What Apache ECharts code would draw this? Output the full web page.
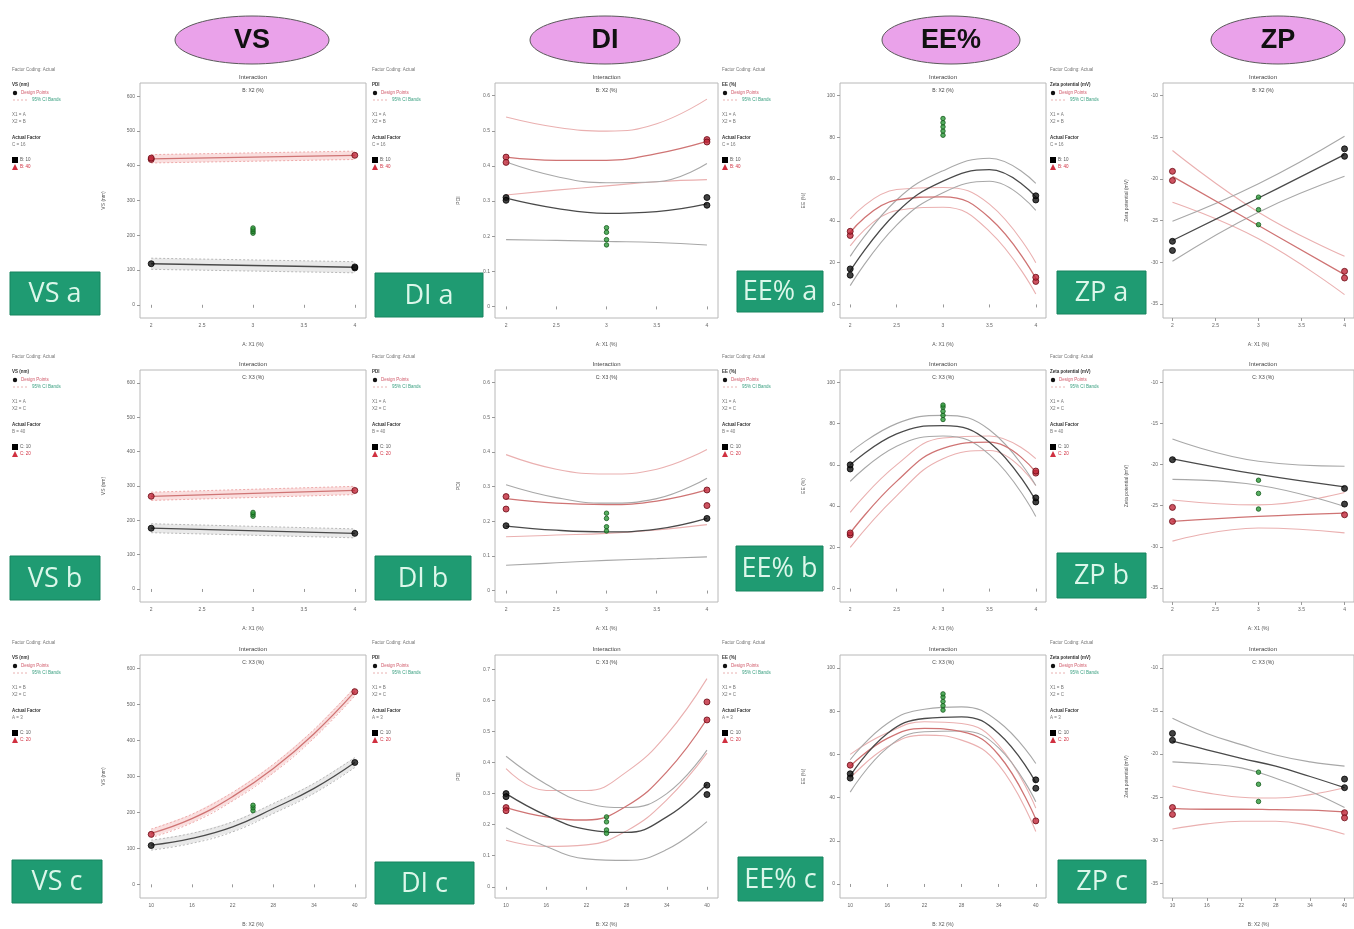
<!DOCTYPE html>
<html>
<head>
<meta charset="utf-8">
<title>Interaction plots</title>
<script src="https://cdn.jsdelivr.net/npm/echarts@6/dist/echarts.min.js"></script>
<style>
  html, body { margin: 0; padding: 0; background: #fff; }
  #chart { width: 1354px; height: 929px; }
</style>
</head>
<body>
<div id="chart"></div>
<script>
// x positions where the curves were read
const xEnds = [2, 4];
const xThree = [2, 3, 4];
const xFive = [2, 2.5, 3, 3.5, 4];
const xSix = [10, 16, 22, 28, 34, 40];

// tick labels
const ticksA = [2, 2.5, 3, 3.5, 4];
const ticksB = [10, 16, 22, 28, 34, 40];
const ticksVS = [0, 100, 200, 300, 400, 500, 600];
const ticksDI = [0, 0.1, 0.2, 0.3, 0.4, 0.5, 0.6];
const ticksDIc = [0, 0.1, 0.2, 0.3, 0.4, 0.5, 0.6, 0.7];
const ticksEE = [0, 20, 40, 60, 80, 100];
const ticksZP = [-35, -30, -25, -20, -15, -10];

// ---- VS ----
const vsA_red = [420, 430], vsA_redHi = [432, 442], vsA_redLo = [408, 418];
const vsA_blk = [118, 108], vsA_blkHi = [134, 124], vsA_blkLo = [102, 92];
const vsA_ptRed = [[2, 418], [2, 422], [4, 430]];
const vsA_ptBlk = [[2, 118], [4, 106], [4, 109]];
const vsA_ptGrn = [[3, 206], [3, 211], [3, 216], [3, 221]];

const vsB_red = [270, 287], vsB_redHi = [282, 299], vsB_redLo = [258, 275];
const vsB_blk = [177, 162], vsB_blkHi = [190, 175], vsB_blkLo = [164, 149];
const vsB_ptRed = [[2, 270], [4, 287]];
const vsB_ptBlk = [[2, 177], [4, 162]];
const vsB_ptGrn = [[3, 212], [3, 218], [3, 223]];

const vsC_red = [142, 183, 244, 322, 419, 536], vsC_redHi = [154, 195, 256, 334, 431, 548], vsC_redLo = [130, 171, 232, 310, 407, 524];
const vsC_blk = [109, 128, 160, 211, 267, 339], vsC_blkHi = [123, 142, 174, 225, 281, 353], vsC_blkLo = [95, 114, 146, 197, 253, 325];
const vsC_ptRed = [[10, 139], [40, 536]];
const vsC_ptBlk = [[10, 108], [40, 339]];
const vsC_ptGrn = [[25, 205], [25, 213], [25, 220]];

// ---- DI (PDI) ----
const diA_red = [0.425, 0.416, 0.416, 0.435, 0.47], diA_redHi = [0.539, 0.51, 0.499, 0.52, 0.59], diA_redLo = [0.317, 0.331, 0.343, 0.355, 0.361];
const diA_blk = [0.308, 0.279, 0.265, 0.27, 0.292], diA_blkHi = [0.411, 0.37, 0.352, 0.355, 0.407], diA_blkLo = [0.19, 0.188, 0.185, 0.182, 0.175];
const diA_ptRed = [[2, 0.425], [2, 0.41], [4, 0.475], [4, 0.468]];
const diA_ptBlk = [[2, 0.31], [2, 0.302], [4, 0.31], [4, 0.288]];
const diA_ptGrn = [[3, 0.224], [3, 0.211], [3, 0.19], [3, 0.175]];

const diB_red = [0.265, 0.252, 0.248, 0.258, 0.29], diB_redHi = [0.392, 0.35, 0.336, 0.35, 0.407], diB_redLo = [0.155, 0.16, 0.165, 0.175, 0.19];
const diB_blk = [0.186, 0.174, 0.169, 0.177, 0.208], diB_blkHi = [0.305, 0.268, 0.252, 0.265, 0.324], diB_blkLo = [0.073, 0.08, 0.087, 0.092, 0.097];
const diB_ptRed = [[2, 0.271], [2, 0.235], [4, 0.29], [4, 0.245]];
const diB_ptBlk = [[2, 0.187], [4, 0.208]];
const diB_ptGrn = [[3, 0.223], [3, 0.208], [3, 0.184], [3, 0.172]];

const diC_red = [0.255, 0.225, 0.215, 0.26, 0.37, 0.54], diC_redHi = [0.38, 0.31, 0.31, 0.37, 0.49, 0.67], diC_redLo = [0.15, 0.13, 0.135, 0.18, 0.28, 0.43];
const diC_blk = [0.30, 0.23, 0.185, 0.175, 0.225, 0.33], diC_blkHi = [0.42, 0.33, 0.27, 0.255, 0.3, 0.44], diC_blkLo = [0.19, 0.13, 0.09, 0.085, 0.12, 0.21];
const diC_ptRed = [[10, 0.255], [10, 0.245], [40, 0.595], [40, 0.537]];
const diC_ptBlk = [[10, 0.30], [10, 0.29], [40, 0.327], [40, 0.297]];
const diC_ptGrn = [[25, 0.225], [25, 0.209], [25, 0.183], [25, 0.172]];

// ---- EE% ----
const eeA_red = [34.5, 50, 51.5, 41.5, 12.5], eeA_redHi = [41, 55, 56, 48, 20], eeA_redLo = [28, 45, 46.5, 35, 5];
const eeA_blk = [16, 44, 59, 64.5, 51.5], eeA_blkHi = [23, 50, 64, 70, 58], eeA_blkLo = [9, 38, 53.5, 59, 45];
const eeA_ptRed = [[2, 33], [2, 35], [4, 11], [4, 13]];
const eeA_ptBlk = [[2, 14], [2, 17], [4, 50], [4, 52]];
const eeA_ptGrn = [[3, 81], [3, 83], [3, 85], [3, 87], [3, 89]];

const eeB_red = [27, 52, 68, 71, 56.5], eeB_redHi = [37, 60, 73, 74, 63], eeB_redLo = [20, 45, 63, 67, 50];
const eeB_blk = [60, 75, 79, 71, 42.5], eeB_blkHi = [66, 80, 84, 77, 50], eeB_blkLo = [52, 69, 74, 65, 35];
const eeB_ptRed = [[2, 26], [2, 27], [4, 56], [4, 57]];
const eeB_ptBlk = [[2, 58], [2, 60], [4, 42], [4, 44]];
const eeB_ptGrn = [[3, 82], [3, 84], [3, 86], [3, 88], [3, 89]];

const eeC_red = [54.5, 67.4, 72, 70.5, 59.7, 29.7], eeC_redHi = [60, 70, 75.1, 74.3, 64.3, 35.1], eeC_redLo = [49, 63.5, 68.9, 66.6, 55.1, 24.3];
const eeC_blk = [50, 69.7, 76.6, 77.4, 69.7, 47], eeC_blkHi = [57.5, 74.3, 80.9, 82, 75.1, 55.8], eeC_blkLo = [42.5, 63, 70.5, 70.8, 63, 38.1];
const eeC_ptRed = [[10, 55], [40, 29.2]];
const eeC_ptBlk = [[10, 51], [10, 49], [40, 48.2], [40, 44.3]];
const eeC_ptGrn = [[25, 80.5], [25, 82.5], [25, 84.5], [25, 86.5], [25, 88]];

// ---- ZP ----
const zpA_red = [-19.7, -25.6, -31.5], zpA_redHi = [-16.6, -24, -29.3], zpA_redLo = [-22.8, -27.2, -33.9];
const zpA_blk = [-27.4, -22.3, -17.1], zpA_blkHi = [-25.1, -20.6, -14.9], zpA_blkLo = [-29.9, -24, -19.7];
const zpA_ptRed = [[2, -19.1], [2, -20.2], [4, -31.1], [4, -31.9]];
const zpA_ptBlk = [[2, -27.5], [2, -28.6], [4, -16.4], [4, -17.3]];
const zpA_ptGrn = [[3, -22.2], [3, -23.7], [3, -25.5]];

const zpB_red = [-26.9, -26.3, -25.9], zpB_redHi = [-24.3, -24.9, -23.4], zpB_redLo = [-29.3, -27.7, -28.3];
const zpB_blk = [-19.3, -21.2, -22.7], zpB_blkHi = [-16.9, -19.6, -20.2], zpB_blkLo = [-21.8, -22.5, -25.1];
const zpB_ptRed = [[2, -25.2], [2, -26.9], [4, -26.1]];
const zpB_ptBlk = [[2, -19.4], [4, -22.9], [4, -24.8]];
const zpB_ptGrn = [[3, -21.9], [3, -23.5], [3, -25.4]];

const zpC_red = [-26.3, -26.4, -26.4, -26.45, -26.5, -26.7], zpC_redHi = [-23.7, -24.5, -25, -25.1, -24.7, -23.9], zpC_redLo = [-28.7, -28.1, -27.8, -27.8, -28.3, -29.3];
const zpC_blk = [-18.5, -19.5, -20.5, -21.4, -22.6, -23.9], zpC_blkHi = [-15.85, -17.6, -18.9, -20.1, -20.9, -21.4], zpC_blkLo = [-20.9, -21.15, -21.6, -22.8, -24.3, -26.2];
const zpC_ptRed = [[10, -26.2], [10, -27], [40, -26.8], [40, -27.4]];
const zpC_ptBlk = [[10, -17.6], [10, -18.4], [40, -22.9], [40, -23.9]];
const zpC_ptGrn = [[25, -22.1], [25, -23.5], [25, -25.5]];

// headers and labels
const headers = ['VS', 'DI', 'EE%', 'ZP'];
const respNames = ['VS (nm)', 'PDI', 'EE (%)', 'Zeta potential (mV)'];

// row settings
const rowInfo = [
    {xTicks: ticksA, xMin: 1.89, xMax: 4.11, xName: 'A: X1 (%)', sub: 'B: X2 (%)', x1: 'X1 = A', x2: 'X2 = B', actual: 'C = 16', lvLo: 'B: 10', lvHi: 'B: 40'},
    {xTicks: ticksA, xMin: 1.89, xMax: 4.11, xName: 'A: X1 (%)', sub: 'C: X3 (%)', x1: 'X1 = A', x2: 'X2 = C', actual: 'B = 40', lvLo: 'C: 10', lvHi: 'C: 20'},
    {xTicks: ticksB, xMin: 8.35, xMax: 41.65, xName: 'B: X2 (%)', sub: 'C: X3 (%)', x1: 'X1 = B', x2: 'X2 = C', actual: 'A = 3', lvLo: 'C: 10', lvHi: 'C: 20'}
];

const panels = [
    {label: 'VS a', row: 0, col: 0, x: xEnds, red: vsA_red, redHi: vsA_redHi, redLo: vsA_redLo, blk: vsA_blk, blkHi: vsA_blkHi, blkLo: vsA_blkLo, ptRed: vsA_ptRed, ptBlk: vsA_ptBlk, ptGrn: vsA_ptGrn, yTicks: ticksVS, yMin: -38, yMax: 638, band: true, box: [10, 272, 90, 43]},
    {label: 'DI a', row: 0, col: 1, x: xFive, red: diA_red, redHi: diA_redHi, redLo: diA_redLo, blk: diA_blk, blkHi: diA_blkHi, blkLo: diA_blkLo, ptRed: diA_ptRed, ptBlk: diA_ptBlk, ptGrn: diA_ptGrn, yTicks: ticksDI, yMin: -0.033, yMax: 0.636, box: [375, 273, 108, 44]},
    {label: 'EE% a', row: 0, col: 2, x: xFive, red: eeA_red, redHi: eeA_redHi, redLo: eeA_redLo, blk: eeA_blk, blkHi: eeA_blkHi, blkLo: eeA_blkLo, ptRed: eeA_ptRed, ptBlk: eeA_ptBlk, ptGrn: eeA_ptGrn, yTicks: ticksEE, yMin: -6.5, yMax: 106, box: [737, 271, 86, 41]},
    {label: 'ZP a', row: 0, col: 3, x: xThree, red: zpA_red, redHi: zpA_redHi, redLo: zpA_redLo, blk: zpA_blk, blkHi: zpA_blkHi, blkLo: zpA_blkLo, ptRed: zpA_ptRed, ptBlk: zpA_ptBlk, ptGrn: zpA_ptGrn, yTicks: ticksZP, yMin: -36.7, yMax: -8.5, box: [1057, 271, 89, 43]},
    {label: 'VS b', row: 1, col: 0, x: xEnds, red: vsB_red, redHi: vsB_redHi, redLo: vsB_redLo, blk: vsB_blk, blkHi: vsB_blkHi, blkLo: vsB_blkLo, ptRed: vsB_ptRed, ptBlk: vsB_ptBlk, ptGrn: vsB_ptGrn, yTicks: ticksVS, yMin: -38, yMax: 638, band: true, box: [10, 556, 90, 44]},
    {label: 'DI b', row: 1, col: 1, x: xFive, red: diB_red, redHi: diB_redHi, redLo: diB_redLo, blk: diB_blk, blkHi: diB_blkHi, blkLo: diB_blkLo, ptRed: diB_ptRed, ptBlk: diB_ptBlk, ptGrn: diB_ptGrn, yTicks: ticksDI, yMin: -0.033, yMax: 0.636, box: [375, 556, 96, 44]},
    {label: 'EE% b', row: 1, col: 2, x: xFive, red: eeB_red, redHi: eeB_redHi, redLo: eeB_redLo, blk: eeB_blk, blkHi: eeB_blkHi, blkLo: eeB_blkLo, ptRed: eeB_ptRed, ptBlk: eeB_ptBlk, ptGrn: eeB_ptGrn, yTicks: ticksEE, yMin: -6.5, yMax: 106, box: [736, 546, 87, 45]},
    {label: 'ZP b', row: 1, col: 3, x: xThree, red: zpB_red, redHi: zpB_redHi, redLo: zpB_redLo, blk: zpB_blk, blkHi: zpB_blkHi, blkLo: zpB_blkLo, ptRed: zpB_ptRed, ptBlk: zpB_ptBlk, ptGrn: zpB_ptGrn, yTicks: ticksZP, yMin: -36.7, yMax: -8.5, box: [1057, 553, 89, 45]},
    {label: 'VS c', row: 2, col: 0, x: xSix, red: vsC_red, redHi: vsC_redHi, redLo: vsC_redLo, blk: vsC_blk, blkHi: vsC_blkHi, blkLo: vsC_blkLo, ptRed: vsC_ptRed, ptBlk: vsC_ptBlk, ptGrn: vsC_ptGrn, yTicks: ticksVS, yMin: -38, yMax: 638, band: true, box: [12, 860, 90, 43]},
    {label: 'DI c', row: 2, col: 1, x: xSix, red: diC_red, redHi: diC_redHi, redLo: diC_redLo, blk: diC_blk, blkHi: diC_blkHi, blkLo: diC_blkLo, ptRed: diC_ptRed, ptBlk: diC_ptBlk, ptGrn: diC_ptGrn, yTicks: ticksDIc, yMin: -0.036, yMax: 0.746, box: [375, 862, 99, 42]},
    {label: 'EE% c', row: 2, col: 2, x: xSix, red: eeC_red, redHi: eeC_redHi, redLo: eeC_redLo, blk: eeC_blk, blkHi: eeC_blkHi, blkLo: eeC_blkLo, ptRed: eeC_ptRed, ptBlk: eeC_ptBlk, ptGrn: eeC_ptGrn, yTicks: ticksEE, yMin: -6.5, yMax: 106, box: [738, 857, 85, 44]},
    {label: 'ZP c', row: 2, col: 3, x: xSix, red: zpC_red, redHi: zpC_redHi, redLo: zpC_redLo, blk: zpC_blk, blkHi: zpC_blkHi, blkLo: zpC_blkLo, ptRed: zpC_ptRed, ptBlk: zpC_ptBlk, ptGrn: zpC_ptGrn, yTicks: ticksZP, yMin: -36.7, yMax: -8.5, box: [1058, 860, 88, 43]}
];

// layout (pixels)
const colFrame = [[140, 226], [495, 223], [840, 206], [1163, 200]];
const rowFrame = [[83, 235], [370, 232], [655, 243]];
const legendX = [12, 372, 722, 1050];
const legendY = [70, 357, 643];
const headerCx = [252, 605, 951, 1278];
const headerRx = [77, 75, 69, 67];

const grids = [], xAxes = [], yAxes = [], series = [], graphics = [];
const pair = (xs, ys) => xs.map((v, k) => [v, ys[k]]);
const small = {fontSize: 5, color: '#666', fontFamily: 'Liberation Sans'};

function lineSeries(i, data, color, width, dashed, smooth, extra) {
    return Object.assign({
        type: 'line', xAxisIndex: i, yAxisIndex: i, data: data, symbol: 'none', smooth: smooth,
        silent: true, z: 2,
        lineStyle: {color: color, width: width, type: dashed ? [2, 2] : 'solid'}
    }, extra || {});
}

function pointSeries(i, data, color, border, size) {
    return {
        type: 'scatter', xAxisIndex: i, yAxisIndex: i, data: data, symbol: 'circle', symbolSize: size,
        itemStyle: {color: color, borderColor: border, borderWidth: 1}, z: 5, silent: true
    };
}

// shaded CI band drawn through the axis scales
function bandSeries(i, xs, hi, lo, fill) {
    return {
        type: 'custom', xAxisIndex: i, yAxisIndex: i, silent: true, z: 1,
        data: [[xs[0], lo[0]]],
        renderItem: (params, api) => {
            const top = xs.map((x, k) => api.coord([x, hi[k]]));
            const bottom = xs.map((x, k) => api.coord([x, lo[k]])).reverse();
            return {type: 'polygon', shape: {points: top.concat(bottom)}, style: {fill: fill}};
        }
    };
}

panels.forEach((p, i) => {
    const r = rowInfo[p.row];
    const [left, width] = colFrame[p.col];
    const [top, height] = rowFrame[p.row];
    const smooth = p.x.length > 2 ? 0.45 : false;

    grids.push({left: left, top: top, width: width, height: height, show: true, borderColor: '#b8b8b8', borderWidth: 1});

    xAxes.push({
        gridIndex: i, type: 'value', min: r.xMin, max: r.xMax,
        axisLine: {show: false},
        axisTick: {show: true, customValues: r.xTicks, length: 3, lineStyle: {color: '#999'}},
        axisLabel: Object.assign({customValues: r.xTicks, margin: 5}, small),
        splitLine: {show: false},
        name: r.xName, nameLocation: 'middle', nameGap: 24,
        nameTextStyle: {fontSize: 5, color: '#555'}
    });
    yAxes.push({
        gridIndex: i, type: 'value', min: p.yMin, max: p.yMax,
        axisLine: {show: false},
        axisTick: {show: true, customValues: p.yTicks, length: 3, lineStyle: {color: '#999'}},
        axisLabel: Object.assign({customValues: p.yTicks, margin: 5}, small),
        splitLine: {show: false},
        name: respNames[p.col], nameLocation: 'middle', nameGap: 34,
        nameTextStyle: {fontSize: 5, color: '#555'}
    });

    // confidence bands
    if (p.band) {
        series.push(bandSeries(i, p.x, p.redHi, p.redLo, 'rgba(244,185,185,0.45)'));
        series.push(bandSeries(i, p.x, p.blkHi, p.blkLo, 'rgba(200,200,200,0.4)'));
        series.push(lineSeries(i, pair(p.x, p.redHi), '#eeaaaa', 1, true, smooth));
        series.push(lineSeries(i, pair(p.x, p.redLo), '#eeaaaa', 1, true, smooth));
        series.push(lineSeries(i, pair(p.x, p.blkHi), '#b8b8b8', 1, true, smooth));
        series.push(lineSeries(i, pair(p.x, p.blkLo), '#b8b8b8', 1, true, smooth));
    } else {
        series.push(lineSeries(i, pair(p.x, p.redHi), '#eab0b0', 1.1, false, smooth));
        series.push(lineSeries(i, pair(p.x, p.redLo), '#eab0b0', 1.1, false, smooth));
        series.push(lineSeries(i, pair(p.x, p.blkHi), '#a8a8a8', 1.1, false, smooth));
        series.push(lineSeries(i, pair(p.x, p.blkLo), '#a8a8a8', 1.1, false, smooth));
    }
    // predicted lines
    series.push(lineSeries(i, pair(p.x, p.red), '#cf7474', 1.3, false, smooth, {z: 3}));
    series.push(lineSeries(i, pair(p.x, p.blk), '#4a4a4a', 1.3, false, smooth, {z: 3}));

    // design points
    series.push(pointSeries(i, p.ptBlk, '#111', '#000', 6));
    series.push(pointSeries(i, p.ptRed, '#c0283a', '#6a0a14', 6));
    series.push(pointSeries(i, p.ptGrn, '#2d9a3a', '#145a1c', 4.5));

    // titles on the frame
    const cx = left + width / 2;
    graphics.push({type: 'text', x: cx, y: top - 6, silent: true,
        style: {text: 'Interaction', fontSize: 6, fill: '#444', align: 'center', verticalAlign: 'middle', fontFamily: 'Liberation Sans'}});
    graphics.push({type: 'text', x: cx, y: top + 8, silent: true,
        style: {text: r.sub, fontSize: 5, fill: '#444', align: 'center', verticalAlign: 'middle', fontFamily: 'Liberation Sans'}});

    // side legend
    const lx = legendX[p.col], ly = legendY[p.row];
    const t = (dy, text, fill, bold, dx) => graphics.push({type: 'text', x: lx + (dx || 0), y: ly + dy, silent: true,
        style: {text: text, fontSize: 4.5, fill: fill, fontWeight: bold ? 'bold' : 'normal', verticalAlign: 'middle', fontFamily: 'Liberation Sans'}});
    t(0, 'Factor Coding: Actual', '#777');
    t(15, respNames[p.col], '#333', true);
    graphics.push({type: 'circle', shape: {cx: lx + 3, cy: ly + 23, r: 2.2}, style: {fill: '#111'}, silent: true});
    t(23, 'Design Points', '#d05a6a', false, 9);
    graphics.push({type: 'line', shape: {x1: lx + 1, y1: ly + 30, x2: lx + 16, y2: ly + 30}, style: {stroke: '#e3a0a0', lineWidth: 0.8, lineDash: [2, 2]}, silent: true});
    t(30, '95% CI Bands', '#3aa080', false, 20);
    t(45, r.x1, '#777');
    t(52, r.x2, '#777');
    t(68, 'Actual Factor', '#333', true);
    t(75, r.actual, '#777');
    graphics.push({type: 'rect', shape: {x: lx, y: ly + 87, width: 6, height: 6}, style: {fill: '#000'}, silent: true});
    t(90, r.lvLo, '#555', false, 8);
    graphics.push({type: 'polygon', shape: {points: [[lx + 3, ly + 94], [lx + 6, ly + 100], [lx, ly + 100]]}, style: {fill: '#d03040'}, silent: true});
    t(97, r.lvHi, '#d03040', false, 8);

    // green panel label
    const [bx, by, bw, bh] = p.box;
    graphics.push({type: 'rect', shape: {x: bx, y: by, width: bw, height: bh}, silent: true,
        style: {fill: '#1f9b72', stroke: '#17845f', lineWidth: 1}});
    graphics.push({type: 'text', x: bx + bw / 2, y: by + bh / 2 + 1, silent: true,
        style: {text: p.label, fontSize: 27, fill: '#dcf7ea', align: 'center', verticalAlign: 'middle',
            fontFamily: "'Liberation Sans Narrow', 'Open Sans', sans-serif"}});
});

// header ellipses
headers.forEach((h, c) => {
    const pts = [];
    for (let k = 0; k < 72; k++) {
        const a = k / 72 * Math.PI * 2;
        pts.push([headerCx[c] + headerRx[c] * Math.cos(a), 40 + 24 * Math.sin(a)]);
    }
    graphics.push({type: 'polygon', shape: {points: pts}, silent: true,
        style: {fill: '#eaa2ea', stroke: '#5a5a5a', lineWidth: 1}});
    graphics.push({type: 'text', x: headerCx[c], y: 41, silent: true,
        style: {text: h, fontSize: 27, fontWeight: 'bold', fill: '#111', align: 'center', verticalAlign: 'middle',
            fontFamily: "'Liberation Sans Narrow', 'Liberation Sans', sans-serif"}});
});

const chart = echarts.init(document.getElementById('chart'));
chart.setOption({
    backgroundColor: '#fff',
    animation: false,
    grid: grids,
    xAxis: xAxes,
    yAxis: yAxes,
    series: series,
    graphic: {elements: graphics}
});
</script>
</body>
</html>
